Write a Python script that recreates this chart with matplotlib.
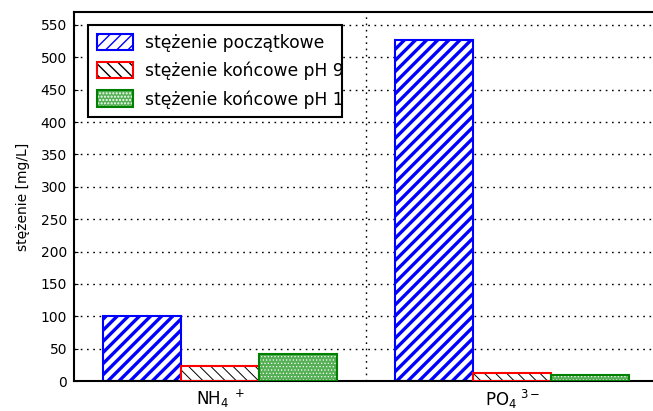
import matplotlib
matplotlib.use("Agg")
import matplotlib.pyplot as plt
from matplotlib.patches import Patch
from matplotlib.legend_handler import HandlerTuple
from matplotlib.transforms import Bbox, TransformedBbox
import numpy as np

# --- data ---
categories = ["NH$_4$$^{\\ +}$", "PO$_4$$^{\\ 3-}$"]
labels = ["stężenie początkowe", "stężenie końcowe pH 9", "stężenie końcowe pH 11"]
poczatkowe = [100, 527]
koncowe_ph9 = [23, 13]
koncowe_ph11 = [42, 9]
yticks = list(range(0, 551, 50))

plt.rcParams["font.family"] = ["DejaVu Sans"]
plt.rcParams["mathtext.fontset"] = "dejavusans"

GREEN_FACE = "#55b055"


def hatch_lw(patches, lw):
    for p in patches:
        if hasattr(p, "set_hatch_linewidth"):
            p.set_hatch_linewidth(lw)


fig = plt.figure(figsize=(6.53, 4.11), dpi=100)
# axes runs slightly past the right edge, as in the cropped original
ax = fig.add_axes([74 / 653, 30 / 411, 584.5 / 653, 369 / 411])

x = np.arange(1, len(categories) + 1)
w = 0.8 / 3

# initial concentration: blue stripes
b1 = ax.bar(x - w, poczatkowe, w, facecolor="white", edgecolor="blue",
            hatch="///", linewidth=1.5, zorder=2)
hatch_lw(b1, 2.4)
# pH 9: black thin stripes, red outline
b2 = ax.bar(x, koncowe_ph9, w, facecolor="white", edgecolor="black",
            hatch="\\\\\\", linewidth=0, zorder=2)
hatch_lw(b2, 0.7)
ax.bar(x, koncowe_ph9, w, fill=False, edgecolor="red", linewidth=1.5, zorder=4)
# pH 11: green stipple, green outline
ax.bar(x + w, koncowe_ph11, w, facecolor=GREEN_FACE, linewidth=0, zorder=2)
b3 = ax.bar(x + w, koncowe_ph11, w, fill=False, edgecolor="white",
            hatch=".....", linewidth=0, zorder=3)
hatch_lw(b3, 0.5)
ax.bar(x + w, koncowe_ph11, w, fill=False, edgecolor="green", linewidth=1.5, zorder=4)

ax.set_xlim(0.5, 2.5)
ax.set_ylim(0, 570)
ax.set_yticks(yticks)
ax.set_xticks(x)
ax.set_xticklabels(categories, fontsize=12)
ax.set_xticks([1.5], minor=True)
ax.tick_params(axis="x", which="major", length=0, pad=5)
ax.tick_params(axis="x", which="minor", length=0)
ax.tick_params(axis="y", direction="in", length=3, labelsize=10, pad=5)

ax.set_axisbelow(True)
dots = (0, (1.2, 3.3))
ax.yaxis.grid(True, which="major", color="black", linestyle=dots, linewidth=1)
ax.xaxis.grid(True, which="minor", color="black", linestyle=dots, linewidth=1)
for s in ax.spines.values():
    s.set_linewidth(1.5)

ax.set_ylabel("stężenie [mg/L]", fontsize=10, labelpad=8)

h1 = Patch(facecolor="white", edgecolor="blue", hatch="///", linewidth=1.5)
hatch_lw([h1], 2.4)
h2a = Patch(facecolor="white", edgecolor="black", hatch="\\\\\\", linewidth=0)
hatch_lw([h2a], 0.7)
h2b = Patch(fill=False, edgecolor="red", linewidth=1.5)
h3a = Patch(facecolor=GREEN_FACE, linewidth=0)
h3b = Patch(fill=False, edgecolor="white", hatch=".....", linewidth=0)
hatch_lw([h3b], 0.5)
h3c = Patch(fill=False, edgecolor="green", linewidth=1.5)

lx0, lw_ = 14 / 584.5, 254 / 584.5
leg = ax.legend([h1, (h2a, h2b), (h3a, h3b, h3c)], labels,
                handler_map={tuple: HandlerTuple(ndivide=1, pad=0)},
                loc="upper left", bbox_to_anchor=(lx0, 0.9648, lw_, 0),
                mode="expand", borderaxespad=0, fontsize=12.35,
                handlelength=2.1, handleheight=1.1, handletextpad=0.75,
                labelspacing=0.58, borderpad=0.5, fancybox=False,
                framealpha=1, edgecolor="black")
leg.get_frame().set_linewidth(1.5)
clip = TransformedBbox(Bbox([[lx0, 0], [lx0 + lw_, 1]]), ax.transAxes)
for t in leg.get_texts():
    t.set_clip_box(clip)
    t.set_clip_on(True)

fig.savefig("out.png", dpi=100)
